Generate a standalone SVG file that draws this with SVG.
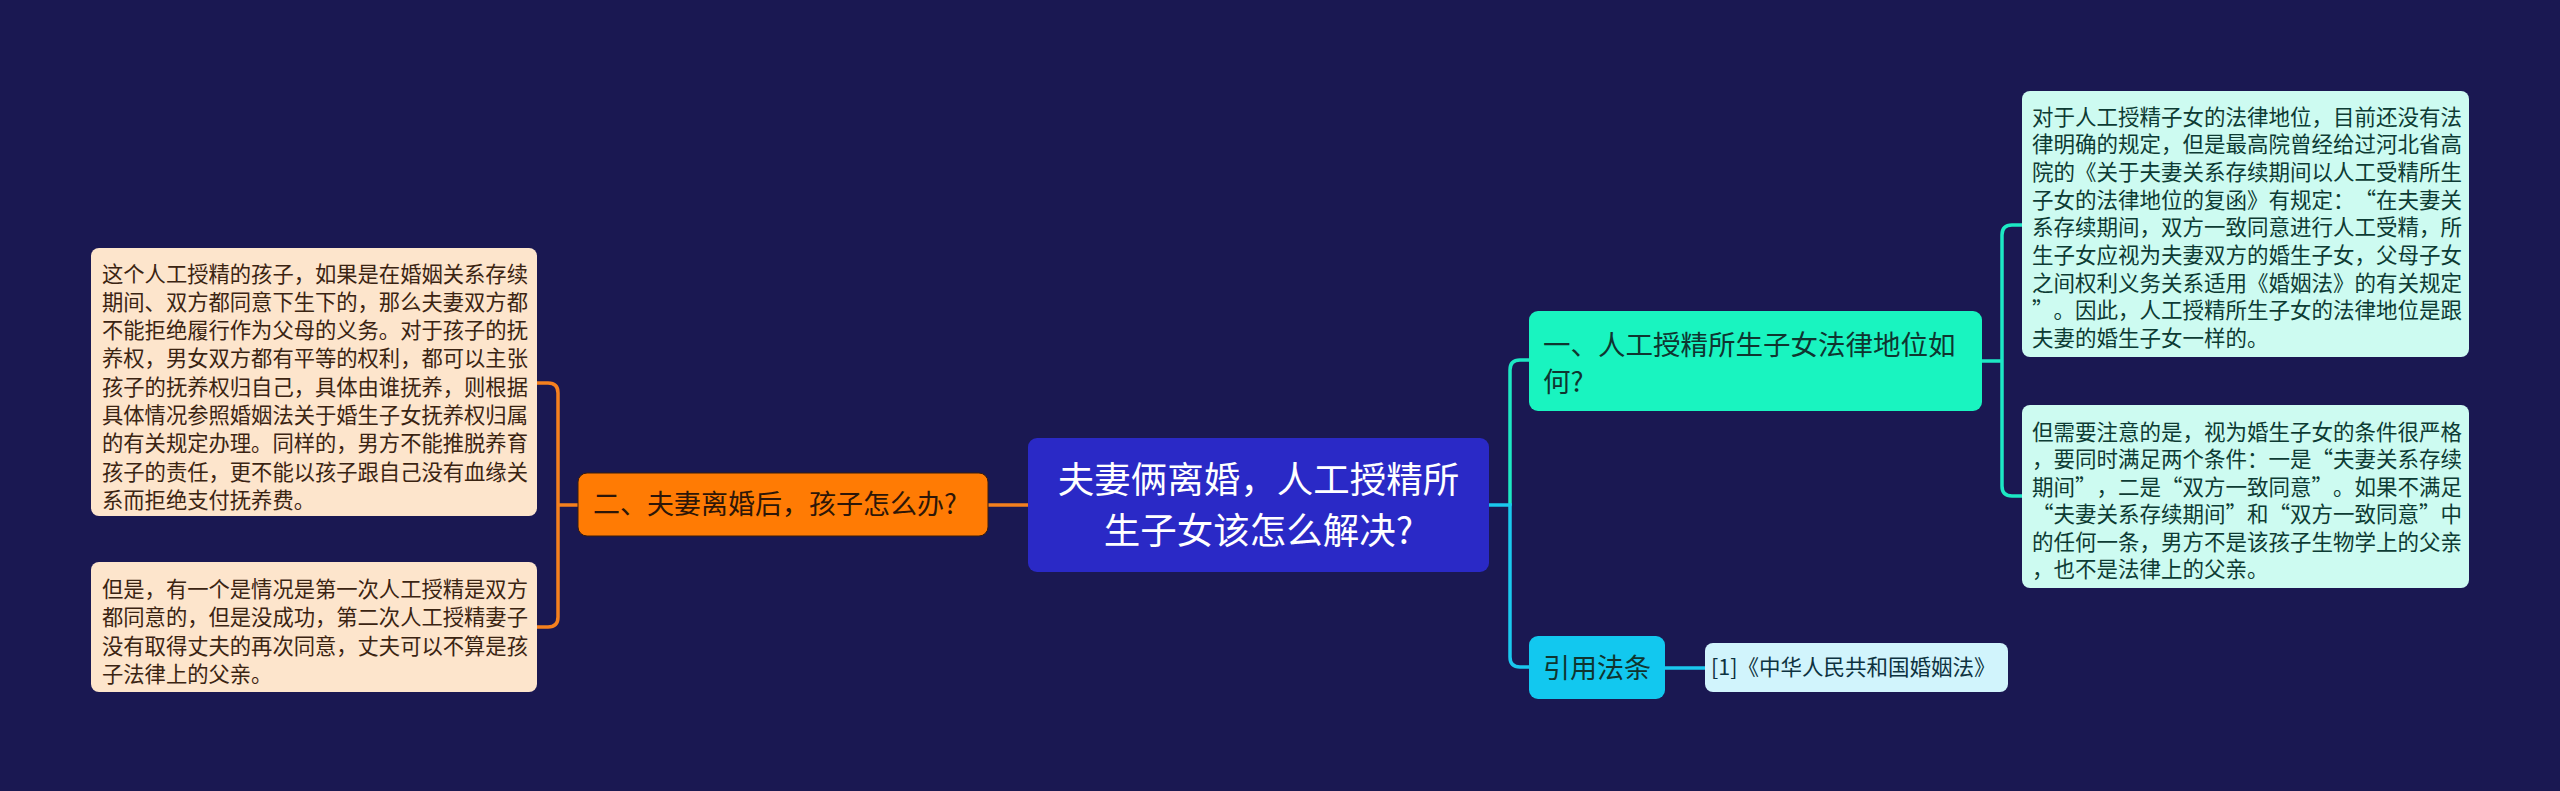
<svg xmlns="http://www.w3.org/2000/svg" width="2560" height="791" viewBox="0 0 2560 791">
<style>
text{font-family:"Noto Sans CJK SC","Noto Sans",sans-serif;text-spacing-trim:space-all}
.lt{font-size:21.3px;fill:#3b2412}
.rt{font-size:21.5px;fill:#0d3b34}
.con{fill:none;stroke-width:3.5;stroke-linecap:round}
</style>
<rect x="0" y="0" width="2560" height="791" fill="#1a1852"/>
<g id="connectors">
<path class="con" stroke="#f5801e" d="M988,505 H1028"/>
<path class="con" stroke="#f5801e" d="M578,505 H558 M537,383 H548 Q558,383 558,393 V617 Q558,627 548,627 H537"/>
<path class="con" stroke="#1de8c4" d="M1510,505 V370 Q1510,360 1520,360 H1529"/>
<path class="con" stroke="#1ac8ee" d="M1489,505 H1510 V657 Q1510,667 1520,667 H1529"/>
<path class="con" stroke="#1de8c4" d="M1982,361 H2002 M2022,225 H2012 Q2002,225 2002,235 V486 Q2002,496 2012,496 H2022"/>
<path class="con" stroke="#1ac8ee" d="M1665,668 H1705"/>
</g>
<g id="center">
<rect x="1028" y="438" width="461" height="134" rx="9" fill="#2a29c6"/>
<text x="1258.5" y="493" font-size="36.5" fill="#ffffff" text-anchor="middle">夫妻俩离婚，人工授精所</text>
<text x="1258.5" y="544" font-size="36.5" fill="#ffffff" text-anchor="middle">生子女该怎么解决?</text>
</g>
<g id="node-two">
<rect x="578" y="473" width="410" height="63" rx="9" fill="#ff7b04" stroke="#3a1c0a" stroke-width="1"/>
<text x="593" y="514" font-size="27" fill="#2d1608">二、夫妻离婚后，孩子怎么办?</text>
</g>
<g id="left-top">
<rect x="91" y="248" width="446" height="268" rx="8" fill="#fde5cc"/>
<text class="lt" x="102" y="281.5">这个人工授精的孩子，如果是在婚姻关系存续</text>
<text class="lt" x="102" y="309.8">期间、双方都同意下生下的，那么夫妻双方都</text>
<text class="lt" x="102" y="338.1">不能拒绝履行作为父母的义务。对于孩子的抚</text>
<text class="lt" x="102" y="366.4">养权，男女双方都有平等的权利，都可以主张</text>
<text class="lt" x="102" y="394.7">孩子的抚养权归自己，具体由谁抚养，则根据</text>
<text class="lt" x="102" y="423">具体情况参照婚姻法关于婚生子女抚养权归属</text>
<text class="lt" x="102" y="451.3">的有关规定办理。同样的，男方不能推脱养育</text>
<text class="lt" x="102" y="479.6">孩子的责任，更不能以孩子跟自己没有血缘关</text>
<text class="lt" x="102" y="507.9">系而拒绝支付抚养费。</text>
</g>
<g id="left-bottom">
<rect x="91" y="562" width="446" height="130" rx="8" fill="#fde5cc"/>
<text class="lt" x="102" y="596.5">但是，有一个是情况是第一次人工授精是双方</text>
<text class="lt" x="102" y="625">都同意的，但是没成功，第二次人工授精妻子</text>
<text class="lt" x="102" y="653.5">没有取得丈夫的再次同意，丈夫可以不算是孩</text>
<text class="lt" x="102" y="682">子法律上的父亲。</text>
</g>
<g id="node-one">
<rect x="1529" y="311" width="453" height="100" rx="9" fill="#19f4c0"/>
<text x="1543" y="354.5" font-size="27.5" fill="#0f3530">一、人工授精所生子女法律地位如</text>
<text x="1543" y="391.5" font-size="27.5" fill="#0f3530">何?</text>
</g>
<g id="right-top">
<rect x="2022" y="91" width="447" height="266" rx="8" fill="#cdfbf1"/>
<text class="rt" x="2032" y="124.5">对于人工授精子女的法律地位，目前还没有法</text>
<text class="rt" x="2032" y="152.2">律明确的规定，但是最高院曾经给过河北省高</text>
<text class="rt" x="2032" y="179.9">院的《关于夫妻关系存续期间以人工受精所生</text>
<text class="rt" x="2032" y="207.6">子女的法律地位的复函》有规定：“在夫妻关</text>
<text class="rt" x="2032" y="235.3">系存续期间，双方一致同意进行人工受精，所</text>
<text class="rt" x="2032" y="263">生子女应视为夫妻双方的婚生子女，父母子女</text>
<text class="rt" x="2032" y="290.7">之间权利义务关系适用《婚姻法》的有关规定</text>
<text class="rt" x="2032" y="318.4">”。因此，人工授精所生子女的法律地位是跟</text>
<text class="rt" x="2032" y="346.1">夫妻的婚生子女一样的。</text>
</g>
<g id="right-bottom">
<rect x="2022" y="405" width="447" height="183" rx="8" fill="#cdfbf1"/>
<text class="rt" x="2032" y="439.5">但需要注意的是，视为婚生子女的条件很严格</text>
<text class="rt" x="2032" y="467">，要同时满足两个条件：一是“夫妻关系存续</text>
<text class="rt" x="2032" y="494.5">期间”，二是“双方一致同意”。如果不满足</text>
<text class="rt" x="2032" y="522">“夫妻关系存续期间”和“双方一致同意”中</text>
<text class="rt" x="2032" y="549.5">的任何一条，男方不是该孩子生物学上的父亲</text>
<text class="rt" x="2032" y="577">，也不是法律上的父亲。</text>
</g>
<g id="node-law">
<rect x="1529" y="636" width="136" height="63" rx="9" fill="#12c8ef"/>
<text x="1597" y="677.5" font-size="27" fill="#0f3530" text-anchor="middle">引用法条</text>
</g>
<g id="law-item">
<rect x="1705" y="643" width="303" height="49" rx="8" fill="#d1f4fc"/>
<text x="1711" y="675" font-size="21.5" fill="#0d3240">[1]《中华人民共和国婚姻法》</text>
</g>
</svg>
